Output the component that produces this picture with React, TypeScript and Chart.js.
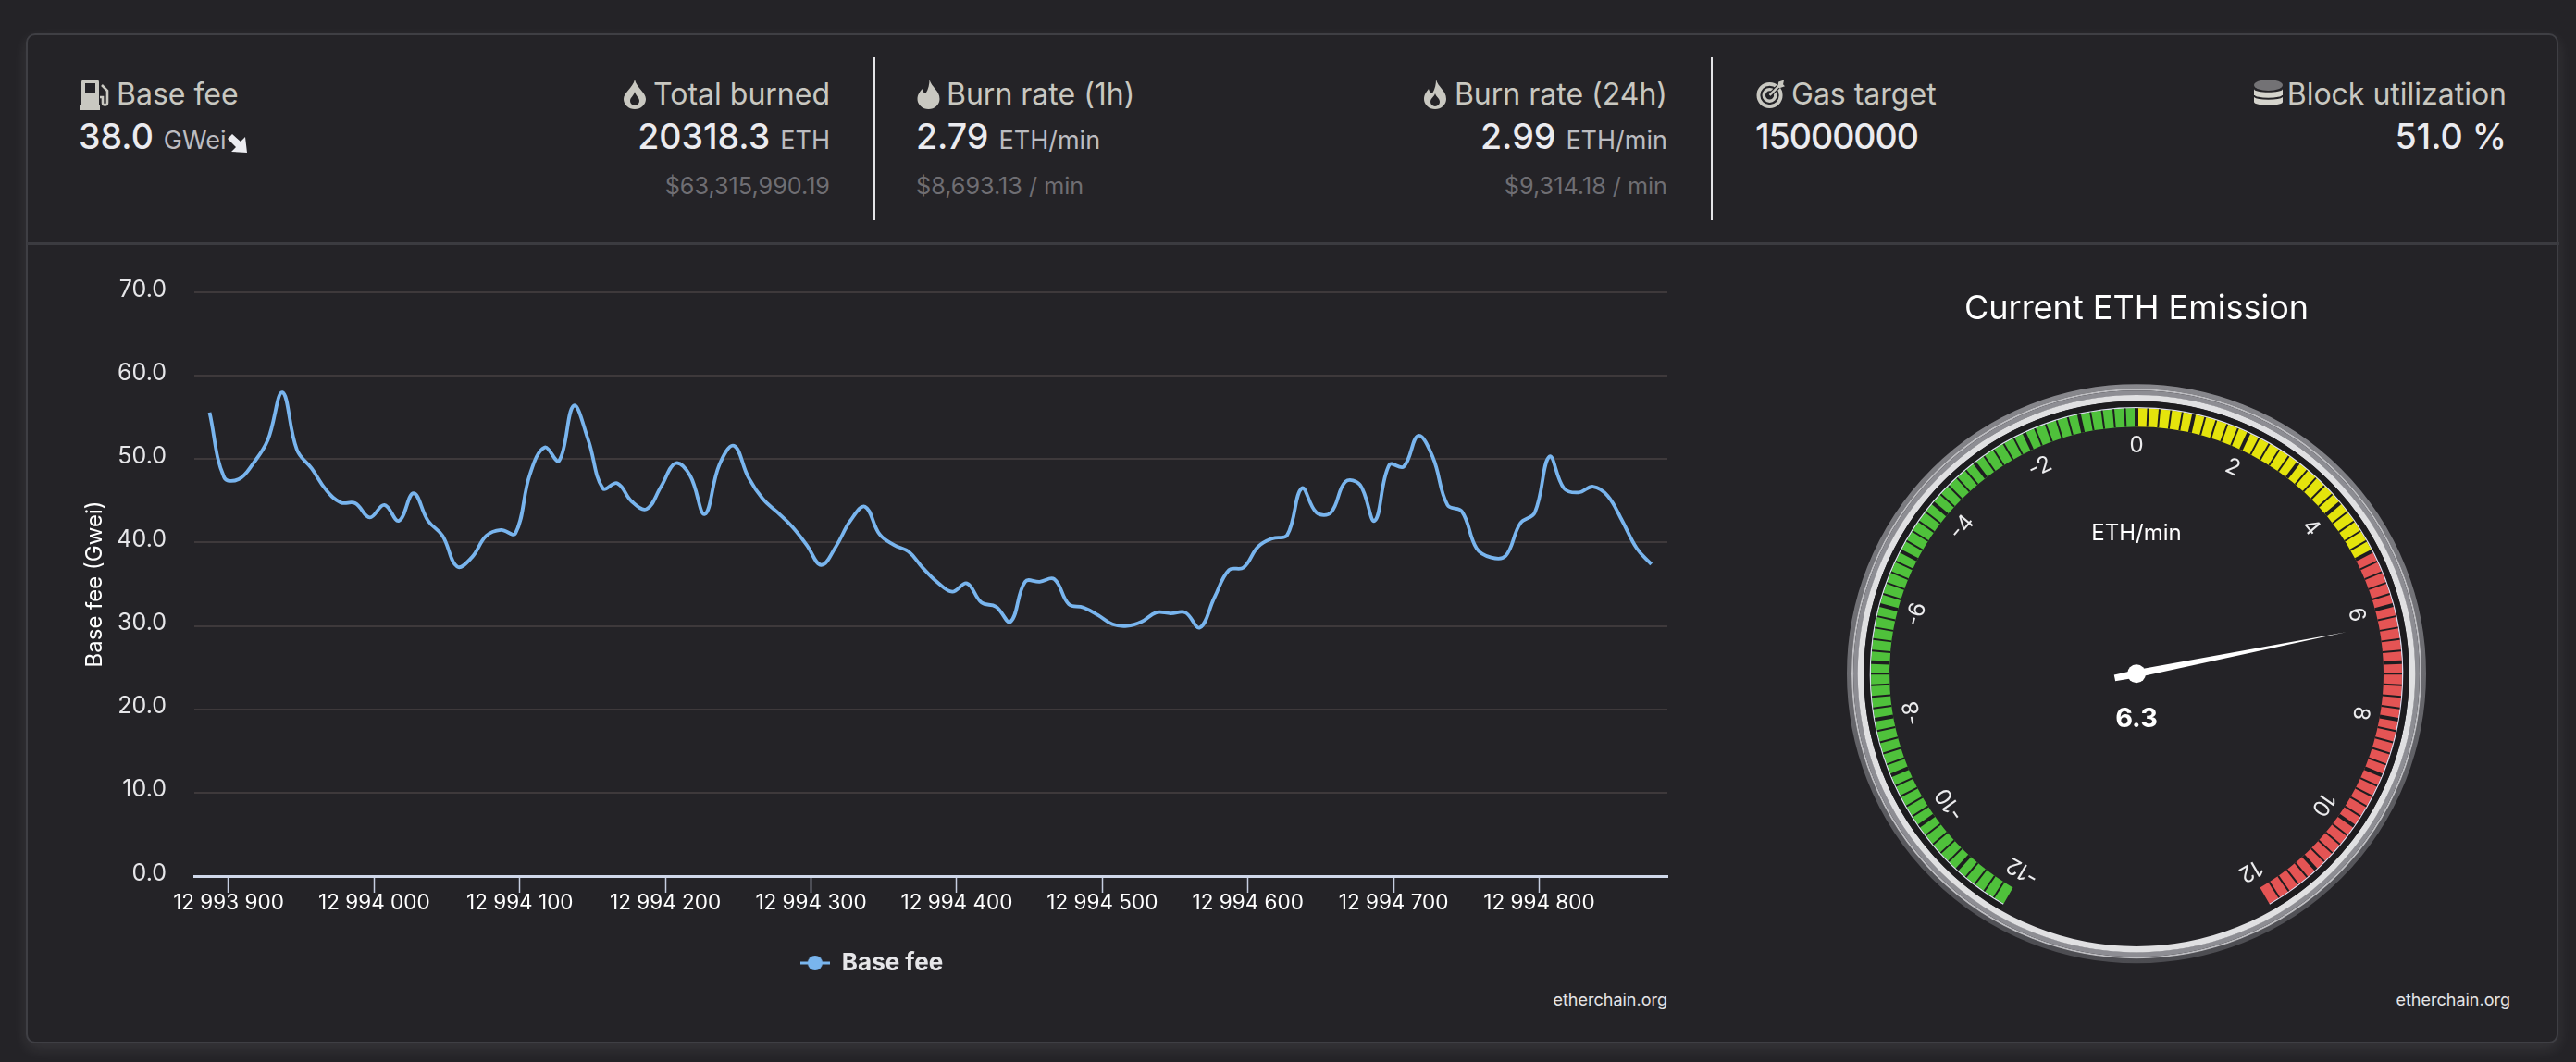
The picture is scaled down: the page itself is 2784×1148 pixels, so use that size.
import React, { useEffect, useRef } from "react";
import { Chart, registerables } from "chart.js";

Chart.register(...registerables);

const FONT = "Inter, 'Noto Sans', sans-serif";

// ---- Base fee series ----
const blockNumbers = [
  12993887, 12993897, 12993907, 12993917, 12993927, 12993937, 12993947, 12993957, 12993967, 12993977,
  12993987, 12993997, 12994007, 12994017, 12994027, 12994037, 12994047, 12994057, 12994067, 12994077,
  12994087, 12994097, 12994107, 12994117, 12994127, 12994137, 12994147, 12994157, 12994167, 12994177,
  12994187, 12994197, 12994207, 12994217, 12994227, 12994237, 12994247, 12994257, 12994267, 12994277,
  12994287, 12994297, 12994307, 12994317, 12994327, 12994337, 12994347, 12994357, 12994367, 12994377,
  12994387, 12994397, 12994407, 12994417, 12994427, 12994437, 12994447, 12994457, 12994467, 12994477,
  12994487, 12994497, 12994507, 12994517, 12994527, 12994537, 12994547, 12994557, 12994567, 12994577,
  12994587, 12994597, 12994607, 12994617, 12994627, 12994637, 12994647, 12994657, 12994667, 12994677,
  12994687, 12994697, 12994707, 12994717, 12994727, 12994737, 12994747, 12994757, 12994767, 12994777,
  12994787, 12994797, 12994807, 12994817, 12994827, 12994837, 12994847, 12994857, 12994867, 12994877,
];
const baseFee = [
  55.6, 47.8, 47.6, 49.5, 52.3, 58.0, 51.1, 48.9, 46.3, 44.8,
  44.7, 43.0, 44.5, 42.6, 45.9, 42.6, 40.8, 37.1, 38.2, 40.8,
  41.5, 41.1, 48.2, 51.4, 49.8, 56.4, 52.3, 46.5, 47.1, 44.9,
  44.0, 46.7, 49.5, 48.0, 43.4, 49.3, 51.6, 47.8, 45.2, 43.6,
  41.9, 39.7, 37.3, 39.5, 42.6, 44.3, 41.0, 39.7, 38.9, 36.9,
  35.2, 34.1, 35.1, 32.8, 32.3, 30.5, 35.3, 35.3, 35.6, 32.6,
  32.2, 31.3, 30.2, 30.0, 30.5, 31.6, 31.5, 31.6, 29.8, 33.4,
  36.7, 37.0, 39.5, 40.5, 40.9, 46.5, 43.6, 43.6, 47.3, 46.9,
  42.6, 49.3, 49.1, 52.8, 50.2, 44.5, 43.7, 39.3, 38.2, 38.4,
  42.3, 43.6, 50.3, 46.5, 46.0, 46.7, 45.6, 42.6, 39.3, 37.4,
];
const xTickValues = [
  12993900, 12994000, 12994100, 12994200, 12994300, 12994400, 12994500, 12994600, 12994700, 12994800,
];
const yTickValues = [0, 10, 20, 30, 40, 50, 60, 70];

// ---- Gauge ----
const gaugeZoneSizes = [12, 5, 7];
const gaugeZoneColors = ["#4fc13b", "#e4e40c", "#e45454"];
const gaugeLabels = [-12, -10, -8, -6, -4, -2, 0, 2, 4, 6, 8, 10, 12];
const gaugeMin = -12;
const gaugeMax = 12;
const gaugeValue = 6.3;

// ---- Header ----
const basics = { baseFee: "38.0", totalBurned: "20318.3", totalUsd: "$63,315,990.19" };
const rates = { oneHour: "2.79", oneHourUsd: "$8,693.13 / min", day: "2.99", dayUsd: "$9,314.18 / min" };
const network = { gasTarget: "15000000", utilization: "51.0 %" };

const BG = "#242327";
const LINE = "#79b5ee";
const ICON = "#c9c8c1";

type RowProps = { x: number; y: number; right?: boolean; children: React.ReactNode };
function Row({ x, y, right, children }: RowProps) {
  const style: React.CSSProperties = {
    position: "absolute",
    top: y,
    transform: "translateY(-50%)",
    whiteSpace: "nowrap",
    lineHeight: 1.2,
    fontFamily: FONT,
    display: "flex",
    alignItems: "baseline",
  };
  if (right) style.right = 2784 - x;
  else style.left = x;
  return <div style={style}>{children}</div>;
}

const Label = ({ t }: { t: string }) => <span style={{ fontSize: 32, color: "#c9c8c1" }}>{t}</span>;
const Big = ({ t, tight }: { t: string; tight?: boolean }) => (
  <span style={{ fontSize: 37.5, color: "#ebebef", fontWeight: 500, letterSpacing: tight ? -1 : 0 }}>{t}</span>
);
const Unit = ({ t }: { t: string }) => (
  <span style={{ fontSize: 27, color: "#bcbcc0", marginLeft: 11 }}>{t}</span>
);
const Sub = ({ t }: { t: string }) => <span style={{ fontSize: 25.2, color: "#6f6e73" }}>{t}</span>;

function Icon({ x, y, w, h, vb, children }: { x: number; y: number; w: number; h: number; vb: string; children: React.ReactNode }) {
  return (
    <svg viewBox={vb} width={w} height={h} style={{ position: "absolute", left: x, top: y }}>
      {children}
    </svg>
  );
}

const dropOuter = "M12 0C14 9 24 14 24 21A12 11 0 0 1 0 21C0 14 10 9 12 0Z";

function HeaderIcons() {
  return (
    <>
      {/* gas pump */}
      <Icon x={86} y={86} w={33} h={33} vb="0 0 33 33">
        <path d="M2 3A3 3 0 0 1 5 0H18A3 3 0 0 1 21 3V27H2Z" fill={ICON} />
        <rect x="6" y="4" width="11" height="11" fill={BG} />
        <rect x="0" y="28" width="22" height="5" fill={ICON} />
        <path d="M24 6L30 12V25A2.5 2.5 0 0 1 25 25V19H22" fill="none" stroke={ICON} strokeWidth="2.6" />
      </Icon>
      {/* total burned drop */}
      <Icon x={674} y={86} w={24} h={32} vb="0 0 24 32">
        <path d={dropOuter} fill={ICON} />
        <path d="M12 13C13 18 17 19 17 23A5 5 0 0 1 7 23C7 19 11 18 12 13Z" fill={BG} />
      </Icon>
      {/* burn rate 1h flame */}
      <Icon x={991} y={86} w={25} h={32} vb="0 0 24 32">
        <path d="M13 0C15 8 24 12 24 21A12 11 0 0 1 0 21C0 16 3 13 5 10C6 14 8 15 9 15C12 10 13 5 13 0Z" fill={ICON} />
      </Icon>
      {/* burn rate 24h flame */}
      <Icon x={1537} y={86} w={28} h={32} vb="0 0 24 32">
        <path d="M13 0C15 8 24 12 24 21A12 11 0 0 1 0 21C0 16 3 13 5 10C6 14 8 15 9 15C12 10 13 5 13 0Z" fill={ICON} />
        <path d="M12 15C13 19 17 20 17 24A5 5 0 0 1 7 24C7 20 11 19 12 15Z" fill={BG} />
      </Icon>
      {/* gas target */}
      <Icon x={1898} y={86} w={31} h={32} vb="0 0 32 32">
        <circle cx="15" cy="17" r="12.5" fill="none" stroke={ICON} strokeWidth="4" />
        <circle cx="15" cy="17" r="6.5" fill="none" stroke={ICON} strokeWidth="3.5" />
        <path d="M15 17L27 5" stroke={BG} strokeWidth="5" />
        <path d="M15 17L27 5" stroke={ICON} strokeWidth="2.5" />
        <path d="M24 8L25 2L31 0L30 5L32 7L26 9Z" fill={ICON} />
      </Icon>
      {/* database */}
      <Icon x={2436} y={86} w={31} h={32} vb="0 0 31 32">
        <path d="M0 10V24C0 29 31 29 31 24V10C31 15 0 15 0 10Z" fill="#d5d4cd" />
        <path d="M0 17C0 22 31 22 31 17" fill="none" stroke={BG} strokeWidth="2" />
        <ellipse cx="15.5" cy="6" rx="15.5" ry="6" fill="#737275" />
      </Icon>
    </>
  );
}

function Header() {
  return (
    <>
      <HeaderIcons />
      <Row x={126} y={102}><Label t="Base fee" /></Row>
      <Row x={85} y={147}>
        <Big t={basics.baseFee} />
        <Unit t="GWei" />
      </Row>
      <svg viewBox="0 0 22 20" width={22} height={20} style={{ position: "absolute", left: 246, top: 145 }}>
        <path d="M0 5L5 0L14 8L19 3L21 20L4 19L9 14Z" fill="#ececf0" />
      </svg>

      <Row x={897} y={102} right><Label t="Total burned" /></Row>
      <Row x={897} y={147} right>
        <Big t={basics.totalBurned} />
        <Unit t="ETH" />
      </Row>
      <Row x={897} y={201} right><Sub t={basics.totalUsd} /></Row>

      <Row x={1023} y={102}><Label t="Burn rate (1h)" /></Row>
      <Row x={990} y={147}>
        <Big t={rates.oneHour} />
        <Unit t="ETH/min" />
      </Row>
      <Row x={990} y={201}><Sub t={rates.oneHourUsd} /></Row>

      <Row x={1802} y={102} right><Label t="Burn rate (24h)" /></Row>
      <Row x={1802} y={147} right>
        <Big t={rates.day} />
        <Unit t="ETH/min" />
      </Row>
      <Row x={1802} y={201} right><Sub t={rates.dayUsd} /></Row>

      <Row x={1936} y={102}><Label t="Gas target" /></Row>
      <Row x={1897} y={147}><Big t={network.gasTarget} tight /></Row>

      <Row x={2709} y={102} right><Label t="Block utilization" /></Row>
      <Row x={2709} y={147} right><Big t={network.utilization} /></Row>

      <div style={{ position: "absolute", left: 944, top: 62, width: 2, height: 176, background: "#e4e4e6" }} />
      <div style={{ position: "absolute", left: 1849, top: 62, width: 2, height: 176, background: "#e4e4e6" }} />
      <div style={{ position: "absolute", left: 29, top: 262, width: 2737, height: 3, background: "#3b3b40" }} />
    </>
  );
}

function useBaseFeeChart(ref: React.RefObject<HTMLCanvasElement | null>) {
  useEffect(() => {
    const canvas = ref.current;
    if (!canvas) return;
    const marker = document.createElement("canvas");
    marker.width = 32;
    marker.height = 18;
    const m = marker.getContext("2d")!;
    m.fillStyle = LINE;
    m.fillRect(0, 7.5, 32, 3);
    m.beginPath();
    m.arc(16, 9, 8, 0, Math.PI * 2);
    m.fill();

    const chart = new Chart(canvas, {
      type: "line",
      data: {
        datasets: [
          {
            label: "Base fee",
            data: blockNumbers.map((b, i) => ({ x: b, y: baseFee[i] })),
            borderColor: LINE,
            backgroundColor: LINE,
            borderWidth: 3.8,
            pointRadius: 0,
            tension: 0.4,
            fill: false,
          },
        ],
      },
      options: {
        animation: false,
        responsive: false,
        maintainAspectRatio: false,
        devicePixelRatio: 1,
        font: { family: FONT },
        layout: { padding: { top: 25, right: 56, left: 28, bottom: 0 } },
        plugins: {
          tooltip: { enabled: false },
          legend: {
            display: true,
            position: "bottom",
            labels: {
              usePointStyle: true,
              pointStyle: marker,
              pointStyleWidth: 32,
              color: "#e6e6e9",
              padding: 41,
              font: { family: FONT, size: 26, weight: "bold" },
            },
          },
        },
        scales: {
          x: {
            type: "linear",
            min: 12993876.5,
            max: 12994888,
            afterBuildTicks: (s: any) => {
              s.ticks = xTickValues.map((value) => ({ value }));
            },
            grid: {
              drawOnChartArea: false,
              drawTicks: true,
              tickLength: 18,
              tickWidth: 1.5,
              tickColor: "#c6cee0",
            },
            border: { display: true, color: "#d0d8ea", width: 3 },
            ticks: {
              color: "#ffffff",
              padding: -2.5,
              maxRotation: 0,
              autoSkip: false,
              font: { family: FONT, size: 22.5 },
              callback: (v: any) => String(v).replace(/(\d+)(\d{3})(\d{3})$/, "$1 $2 $3"),
            },
          },
          y: {
            min: 0,
            max: 70,
            afterBuildTicks: (s: any) => {
              s.ticks = yTickValues.map((value) => ({ value }));
            },
            afterFit: (s: any) => {
              s.width = 128;
            },
            grid: { color: "#3e393b", lineWidth: 2, drawTicks: false },
            border: { display: false },
            title: {
              display: true,
              text: "Base fee (Gwei)",
              color: "#ffffff",
              font: { family: FONT, size: 24 },
              padding: { top: 6, bottom: 0 },
            },
            ticks: {
              color: "#e6e6e9",
              padding: 30,
              labelOffset: -3,
              font: { family: FONT, size: 25 },
              callback: (v: any) => Number(v).toFixed(1),
            },
          },
        },
      } as any,
    });
    return () => chart.destroy();
  }, [ref]);
}

function useGaugeChart(ref: React.RefObject<HTMLCanvasElement | null>) {
  useEffect(() => {
    const canvas = ref.current;
    if (!canvas) return;
    const toRad = (v: number) =>
      (((v - gaugeMin) / (gaugeMax - gaugeMin)) * 300 - 150 - 90) * (Math.PI / 180);

    const dial = {
      id: "dial",
      beforeDatasetsDraw(chart: any) {
        const { ctx } = chart;
        const el = chart.getDatasetMeta(0).data[0];
        const cx = el.x, cy = el.y;
        const grad = ctx.createLinearGradient(0, cy - 313, 0, cy + 313);
        grad.addColorStop(0, "#88888d");
        grad.addColorStop(1, "#4c4c51");
        const ring = (r: number, w: number, c: any) => {
          ctx.beginPath();
          ctx.arc(cx, cy, r, 0, Math.PI * 2);
          ctx.lineWidth = w;
          ctx.strokeStyle = c;
          ctx.stroke();
        };
        ring(310.5, 5, grad);
        ring(307, 2, "#bdbdc1");
        ring(303.5, 5, "#8d8d93");
        ring(298, 6.5, "#e0e0e2");
        ctx.save();
        ctx.beginPath();
        ctx.arc(cx, cy, 291.25, toRad(gaugeMin), toRad(gaugeMax));
        ctx.lineWidth = 7;
        ctx.strokeStyle = "#1d1c1f";
        ctx.stroke();
        ctx.beginPath();
        ctx.arc(cx, cy, 287.5, toRad(gaugeMin), toRad(gaugeMax));
        ctx.lineWidth = 1.5;
        ctx.strokeStyle = "#dcdcf0";
        ctx.stroke();
        ctx.restore();
      },
      afterDatasetsDraw(chart: any) {
        const { ctx } = chart;
        const el = chart.getDatasetMeta(0).data[0];
        const cx = el.x, cy = el.y;
        const inner = el.innerRadius, outer = el.outerRadius;
        ctx.save();
        // tick marks: five minor divisions per unit
        for (let u = 0; u <= (gaugeMax - gaugeMin) * 5; u++) {
          const a = toRad(gaugeMin + u / 5);
          ctx.beginPath();
          ctx.moveTo(cx + Math.cos(a) * inner, cy + Math.sin(a) * inner);
          ctx.lineTo(cx + Math.cos(a) * outer, cy + Math.sin(a) * outer);
          ctx.lineWidth = u % 5 === 0 ? 4 : 2;
          ctx.strokeStyle = "#1e1d20";
          if (u > 0 && u < (gaugeMax - gaugeMin) * 5) ctx.stroke();
        }
        // labels
        ctx.font = `24px ${FONT}`;
        ctx.fillStyle = "#ececee";
        ctx.textAlign = "center";
        ctx.textBaseline = "middle";
        for (const v of gaugeLabels) {
          const a = toRad(v);
          ctx.save();
          ctx.translate(cx + Math.cos(a) * 246, cy + Math.sin(a) * 246);
          ctx.rotate(a + Math.PI / 2);
          ctx.fillText(String(v), 0, 0);
          ctx.restore();
        }
        ctx.font = `24px ${FONT}`;
        ctx.fillStyle = "#ffffff";
        ctx.fillText("ETH/min", cx, cy - 151);
        ctx.font = `bold 29px ${FONT}`;
        ctx.fillText(String(gaugeValue), cx, cy + 49);
        // needle
        const a = toRad(gaugeValue);
        const ca = Math.cos(a), sa = Math.sin(a);
        const nx = -sa, ny = ca;
        ctx.fillStyle = "#ffffff";
        ctx.beginPath();
        ctx.moveTo(cx - ca * 24 + nx * 3.5, cy - sa * 24 + ny * 3.5);
        ctx.lineTo(cx + nx * 4, cy + ny * 4);
        ctx.lineTo(cx + ca * 231, cy + sa * 231);
        ctx.lineTo(cx - nx * 4, cy - ny * 4);
        ctx.lineTo(cx - ca * 24 - nx * 3.5, cy - sa * 24 - ny * 3.5);
        ctx.closePath();
        ctx.fill();
        ctx.beginPath();
        ctx.arc(cx, cy, 10, 0, Math.PI * 2);
        ctx.fill();
        ctx.restore();
      },
    };

    const chart = new Chart(canvas, {
      type: "doughnut",
      data: {
        labels: ["Green", "Yellow", "Red"],
        datasets: [
          {
            data: gaugeZoneSizes,
            backgroundColor: gaugeZoneColors,
            borderWidth: 0,
          },
        ],
      },
      options: {
        animation: false,
        responsive: false,
        maintainAspectRatio: false,
        devicePixelRatio: 1,
        rotation: -150,
        circumference: 300,
        radius: 287,
        cutout: `${(267 / 287) * 100}%`,
        layout: { padding: 0 },
        plugins: { legend: { display: false }, tooltip: { enabled: false } },
      } as any,
      plugins: [dial as any],
    });
    return () => chart.destroy();
  }, [ref]);
}

export default function App() {
  const lineRef = useRef<HTMLCanvasElement>(null);
  const gaugeRef = useRef<HTMLCanvasElement>(null);
  useBaseFeeChart(lineRef);
  useGaugeChart(gaugeRef);
  useEffect(() => {
    document.body.style.margin = "0";
    document.body.style.background = BG;
  }, []);
  return (
    <div style={{ position: "absolute", left: 0, top: 0, width: 2784, height: 1148, overflow: "hidden", background: BG, fontFamily: FONT }}>
      <div
        style={{
          position: "absolute",
          left: 28,
          top: 36,
          width: 2737,
          height: 1092,
          boxSizing: "border-box",
          border: "2.5px solid #3f3f44",
          borderRadius: 10,
          background: BG,
          boxShadow: "0 6px 16px rgba(255,255,255,0.09)",
        }}
      />
      <Header />
      <canvas ref={lineRef} width={1804} height={793} style={{ position: "absolute", left: 54, top: 271, width: 1804, height: 793 }} />
      <canvas ref={gaugeRef} width={720} height={720} style={{ position: "absolute", left: 1949, top: 349, width: 720, height: 720 }} />
      <div style={{ position: "absolute", left: 1925, width: 768, top: 310, textAlign: "center", color: "#ffffff", fontSize: 36, lineHeight: "44px", fontFamily: FONT }}>
        Current ETH Emission
      </div>
      <div style={{ position: "absolute", right: 2784 - 1802, top: 1069, color: "#e4e4e6", fontSize: 18, lineHeight: "24px" }}>etherchain.org</div>
      <div style={{ position: "absolute", right: 2784 - 2713, top: 1069, color: "#e4e4e6", fontSize: 18, lineHeight: "24px" }}>etherchain.org</div>
    </div>
  );
}
